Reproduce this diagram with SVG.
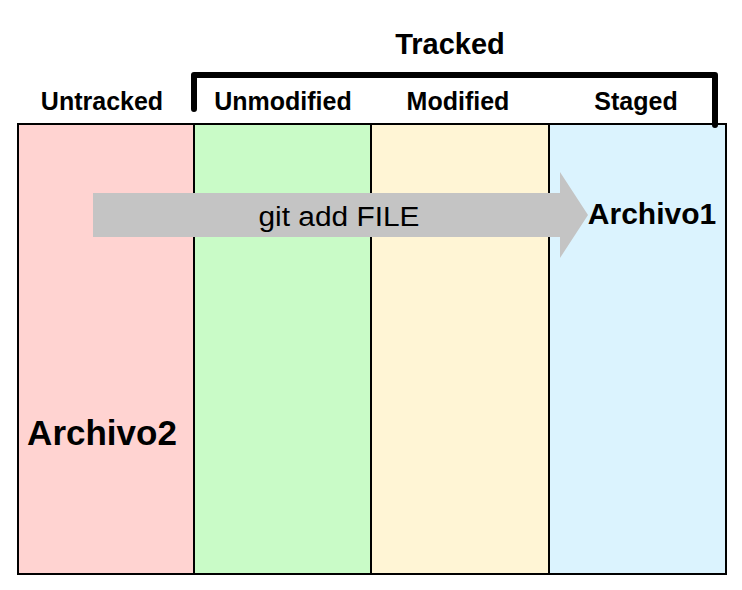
<svg xmlns="http://www.w3.org/2000/svg" width="742" height="590" viewBox="0 0 742 590">
<style>
.lbl{font-family:"Liberation Sans",Arial,sans-serif;font-weight:bold;fill:#000;text-anchor:middle}
.col{stroke:#000;stroke-width:2}
</style>
<rect width="742" height="590" fill="#fff"/>
<g id="untracked"><rect class="col" x="18" y="124" width="176" height="450" fill="#ffd3d1"/>
<text class="lbl" x="102" y="110" font-size="25">Untracked</text></g>
<g id="unmodified"><rect class="col" x="194" y="124" width="177" height="450" fill="#c9fbc7"/>
<text class="lbl" x="283" y="110" font-size="25">Unmodified</text></g>
<g id="modified"><rect class="col" x="371" y="124" width="178" height="450" fill="#fff5d5"/>
<text class="lbl" x="458" y="110" font-size="25">Modified</text></g>
<g id="staged"><rect class="col" x="549" y="124" width="177" height="450" fill="#dbf3fe"/>
<text class="lbl" x="636" y="110" font-size="25">Staged</text></g>
<g id="tracked"><path d="M194 109 V75 H715 V125" fill="none" stroke="#000" stroke-width="6" stroke-linecap="round" stroke-linejoin="round"/>
<text class="lbl" x="450" y="54" font-size="29">Tracked</text></g>
<g id="connectors"><polygon points="93,193 560,193 560,172 588,215 560,258 560,237 93,237" fill="#c4c4c4"/>
<text x="339" y="226" font-family="Liberation Sans,Arial,sans-serif" font-size="27" text-anchor="middle" fill="#000" textLength="161" lengthAdjust="spacingAndGlyphs">git add FILE</text></g>
<g id="archivo1"><text class="lbl" x="652" y="224" font-size="30">Archivo1</text></g>
<g id="archivo2"><text class="lbl" x="102" y="445" font-size="35">Archivo2</text></g>
</svg>
